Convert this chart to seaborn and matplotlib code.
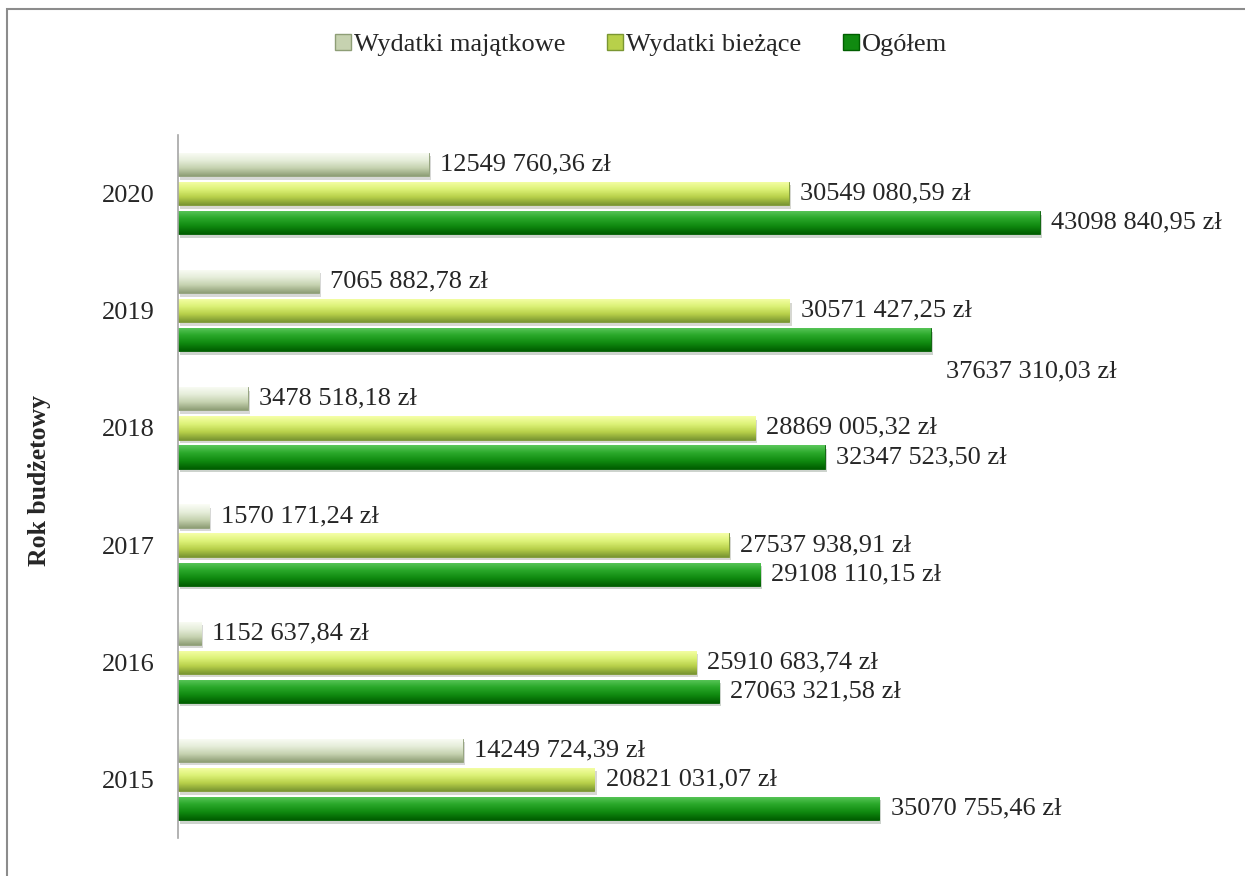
import numpy as np
import pandas as pd
import seaborn as sns
import matplotlib.pyplot as plt
import matplotlib.patches as mpatches
import matplotlib.patheffects as pe
from matplotlib.colors import LinearSegmentedColormap

# Dane
lata = ['2020', '2019', '2018', '2017', '2016', '2015']
majatkowe = [12549760.36, 7065882.78, 3478518.18, 1570171.24, 1152637.84, 14249724.39]
biezace = [30549080.59, 30571427.25, 28869005.32, 27537938.91, 25910683.74, 20821031.07]
ogolem = [43098840.95, 37637310.03, 32347523.50, 29108110.15, 27063321.58, 35070755.46]
serie = ['Wydatki majątkowe', 'Wydatki bieżące', 'Ogółem']

sns.set_style('white')
plt.rcParams['font.family'] = ['Liberation Serif', 'DejaVu Serif']

df = pd.DataFrame({
    'Rok': lata * 3,
    'Seria': [serie[0]] * 6 + [serie[1]] * 6 + [serie[2]] * 6,
    'Kwota': majatkowe + biezace + ogolem,
})

# kolory gradientu od góry do dołu słupka
gradienty = {
    serie[0]: ['#fbfdf6', '#e6eedb', '#c6d2b0', '#8e9e76'],
    serie[1]: ['#f6ffa8', '#ddf278', '#b8d04a', '#7a9632'],
    serie[2]: ['#5cc85c', '#2aa82a', '#108a10', '#005e00'],
}
paleta = {s: gradienty[s][2] for s in serie}

fig = plt.figure(figsize=(12.45, 8.76), dpi=100)
ax = fig.add_axes([178 / 1245, 1 - 838 / 876, 1000 / 1245, (838 - 135) / 876])

sns.barplot(data=df, y='Rok', x='Kwota', hue='Seria', order=lata, hue_order=serie,
            palette=paleta, orient='h', width=0.745, gap=0.2, ax=ax, legend=False)

# Gradient na słupkach
kolejnosc = []
for s in serie:
    kolejnosc += [s] * len(lata)
for patch, s in zip(ax.patches, kolejnosc):
    x0, y0 = patch.get_x(), patch.get_y()
    w, h = patch.get_width(), patch.get_height()
    cmap = LinearSegmentedColormap.from_list(s, gradienty[s])
    grad = np.linspace(0, 1, 64).reshape(-1, 1)
    patch.set_edgecolor(gradienty[s][3])
    patch.set_linewidth(0.6)
    patch.set_path_effects([pe.SimplePatchShadow(offset=(1.5, -2.5), alpha=0.2), pe.Normal()])
    im = ax.imshow(grad, extent=[x0, x0 + w, y0, y0 + h], origin='lower', cmap=cmap,
                   aspect='auto', zorder=patch.get_zorder() + 0.1, interpolation='bilinear')
    im.set_clip_path(patch)

ax.set_xlim(0, 50e6)
ax.set_ylim(5.5, -0.5)


# Etykiety danych
def format_zl(v):
    calk = int(round(v * 100)) // 100
    gr = int(round(v * 100)) % 100
    if calk >= 1000:
        tekst = f'{calk // 1000} {calk % 1000:03d}'
    else:
        tekst = str(calk)
    return f'{tekst},{gr:02d} zł'


for patch, s, v, rok in zip(ax.patches, kolejnosc, df['Kwota'], df['Rok']):
    yc = patch.get_y() + patch.get_height() / 2
    dx, dy = 8, 0
    if s == 'Ogółem' and rok == '2019':
        dx, dy = 11, -23
    ax.annotate(format_zl(v), (patch.get_width(), yc), xytext=(dx, dy),
                textcoords='offset points', va='center', ha='left', fontsize=19)

# Osie
sns.despine(ax=ax, left=False, bottom=True)
ax.spines['left'].set_color('#a6a6a6')
ax.spines['left'].set_linewidth(1.2)
ax.set_xticks([])
ax.set_xlabel('')
ax.set_ylabel('')
ax.tick_params(axis='y', left=False, labelsize=19, pad=13)

fig.text(40 / 1245, 1 - 480 / 876, 'Rok budżetowy', rotation=90, ha='center', va='center',
         fontsize=18.5, fontweight='bold')

# Legenda
uchwyty = [mpatches.Patch(facecolor=gradienty[s][2], edgecolor=gradienty[s][3], label=s) for s in serie]
fig.legend(handles=uchwyty, loc='center', bbox_to_anchor=(641 / 1245, 1 - 45 / 876), ncol=3,
           frameon=False, fontsize=19, handlelength=0.6, handleheight=0.6, handletextpad=0.1,
           columnspacing=1.6)

# Ramka
fig.patches.append(mpatches.Rectangle((6.5 / 1245, -0.1), 1.2, 1 - 8.5 / 876 + 0.1,
                                      transform=fig.transFigure, fill=False,
                                      edgecolor='#8c8c8c', linewidth=1.5))

plt.savefig('out.png', dpi=100)
